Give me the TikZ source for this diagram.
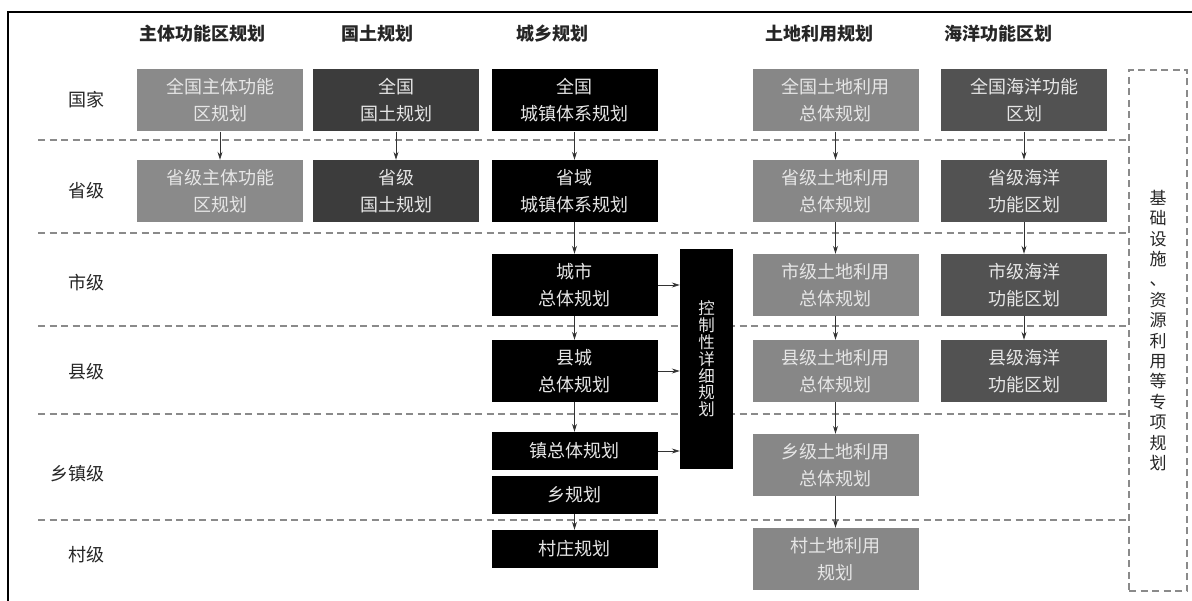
\documentclass[tikz,border=0pt]{standalone}
\usepackage{fontspec}
\newfontfamily\cjk{Noto Sans CJK SC}
\usetikzlibrary{arrows.meta}
\definecolor{colA}{HTML}{8A8A8A}
\definecolor{colB}{HTML}{3C3C3C}
\definecolor{colC}{HTML}{000000}
\definecolor{colD}{HTML}{878787}
\definecolor{colE}{HTML}{525252}
\definecolor{boxtext}{HTML}{E6E6E6}
\definecolor{sepgray}{HTML}{8A8A8A}
\definecolor{labtext}{HTML}{262626}
\begin{document}
\begin{tikzpicture}[x=1pt,y=-1pt,
  plan/.style={rectangle, inner sep=0pt, minimum width=166pt, minimum height=62pt,
    align=center, text=boxtext, font=\cjk\fontsize{18}{27}\selectfont},
  small/.style={minimum height=38pt},
  hdr/.style={text=labtext, font=\cjk\bfseries\fontsize{18}{22}\selectfont},
  lvl/.style={anchor=east, text=labtext, font=\cjk\fontsize{18}{22}\selectfont},
  arr/.style={draw=black!80, line width=0.8pt, -{Stealth[length=8pt,width=5pt]}},
  sep/.style={draw=sepgray, line width=1.1pt, dash pattern=on 7pt off 4.5pt},
  frame/.style={draw=black, line width=1.5pt}
]
\useasboundingbox (0,0) rectangle (1192,601);
% outer frame (top and left edges)
\draw[frame] (1192,12) -- (8,12) -- (8,601);
% separators
\foreach \yy in {140,233,326,414,520}{\draw[sep] (38,\yy) -- (1129,\yy);}
% headers
\node[hdr] (h1) at (202,34) {主体功能区规划};
\node[hdr] (h2) at (377,34) {国土规划};
\node[hdr] (h3) at (552,34) {城乡规划};
\node[hdr] (h4) at (819,34) {土地利用规划};
\node[hdr] (h5) at (998,34) {海洋功能区划};
% level labels
\node[lvl] (l1) at (108,100) {国家};
\node[lvl] (l2) at (108,191) {省级};
\node[lvl] (l3) at (108,283) {市级};
\node[lvl] (l4) at (108,372) {县级};
\node[lvl] (l5) at (108,474) {乡镇级};
\node[lvl] (l6) at (108,555) {村级};
% row: national
\node[plan, fill=colA] (a1) at (220,100.5) {全国主体功能\\区规划};
\node[plan, fill=colB] (a2) at (396,100.5) {全国\\国土规划};
\node[plan, fill=colC] (a3) at (574.5,100.5) {全国\\城镇体系规划};
\node[plan, fill=colD] (a4) at (835.5,100.5) {全国土地利用\\总体规划};
\node[plan, fill=colE] (a5) at (1024,100.5) {全国海洋功能\\区划};
% row: province
\node[plan, fill=colA] (b1) at (220,191) {省级主体功能\\区规划};
\node[plan, fill=colB] (b2) at (396,191) {省级\\国土规划};
\node[plan, fill=colC] (b3) at (574.5,191) {省域\\城镇体系规划};
\node[plan, fill=colD] (b4) at (835.5,191) {省级土地利用\\总体规划};
\node[plan, fill=colE] (b5) at (1024,191) {省级海洋\\功能区划};
% row: city
\node[plan, fill=colC] (c3) at (574.5,285) {城市\\总体规划};
\node[plan, fill=colD] (c4) at (835.5,285) {市级土地利用\\总体规划};
\node[plan, fill=colE] (c5) at (1024,285) {市级海洋\\功能区划};
% row: county
\node[plan, fill=colC] (d3) at (574.5,371) {县城\\总体规划};
\node[plan, fill=colD] (d4) at (835.5,371) {县级土地利用\\总体规划};
\node[plan, fill=colE] (d5) at (1024,371) {县级海洋\\功能区划};
% row: township
\node[plan, small, fill=colC] (e3) at (574.5,451) {镇总体规划};
\node[plan, small, fill=colC] (f3) at (574.5,495) {乡规划};
\node[plan, fill=colD] (e4) at (835.5,465) {乡级土地利用\\总体规划};
% row: village
\node[plan, small, fill=colC] (g3) at (574.5,549) {村庄规划};
\node[plan, fill=colD] (g4) at (835.5,559) {村土地利用\\规划};
% detailed control plan
\node[plan, fill=colC, minimum width=53pt, minimum height=220pt,
  font=\cjk\fontsize{16.5}{16.8}\selectfont] (ctrl) at (706.5,359)
  {控\\制\\性\\详\\细\\规\\划};
% special plans box
\node[draw=sepgray, line width=1.1pt, dash pattern=on 7pt off 4.5pt,
  minimum width=58pt, minimum height=521pt, inner sep=0pt, align=center,
  text=labtext, font=\cjk\fontsize{17}{20.4}\selectfont] (sp) at (1158,330.5)
  {基\\础\\设\\施\\、\\资\\源\\利\\用\\等\\专\\项\\规\\划};
% vertical arrows
\draw[arr] (a1) -- (b1);
\draw[arr] (a2) -- (b2);
\draw[arr] (a3) -- (b3);
\draw[arr] (b3) -- (c3);
\draw[arr] (c3) -- (d3);
\draw[arr] (d3) -- (e3);
\draw[arr] (f3) -- (g3);
\draw[arr] (a4) -- (b4);
\draw[arr] (b4) -- (c4);
\draw[arr] (c4) -- (d4);
\draw[arr] (d4) -- (e4);
\draw[arr] (e4) -- (g4);
\draw[arr] (a5) -- (b5);
\draw[arr] (b5) -- (c5);
\draw[arr] (c5) -- (d5);
% horizontal arrows to control plan
\draw[arr] (c3.east) -- (c3.east -| ctrl.west);
\draw[arr] (d3.east) -- (d3.east -| ctrl.west);
\draw[arr] (e3.east) -- (e3.east -| ctrl.west);
\end{tikzpicture}
\end{document}
